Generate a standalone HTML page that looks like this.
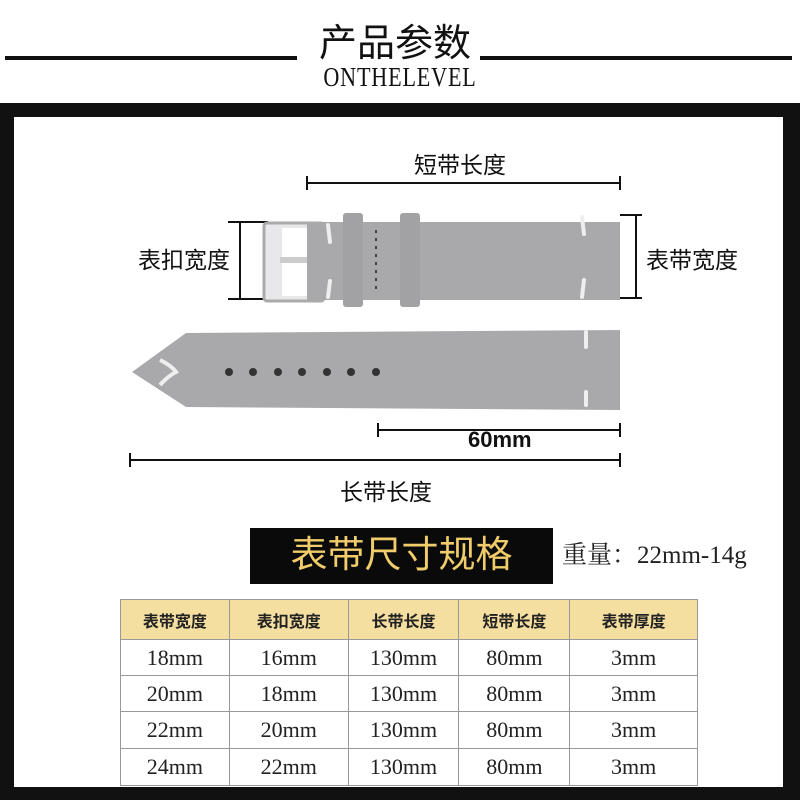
<!DOCTYPE html>
<html><head><meta charset="utf-8"><style>
body{margin:0;background:#fff;width:800px;height:800px;overflow:hidden;position:relative;font-family:"Liberation Sans","Noto Sans CJK SC",sans-serif}
.a{position:absolute}
</style></head><body>
<div class="a" style="left:5px;top:56px;width:292px;height:4px;background:#111"></div>
<div class="a" style="left:480px;top:56px;width:312px;height:4px;background:#111"></div>
<div class="a" style="left:305px;top:22px;width:180px;text-align:center;font-size:38px;color:#111;line-height:44px">产品参数</div>
<div class="a" style="left:290px;top:62px;width:220px;text-align:center;font-family:'Liberation Serif',serif;font-size:27px;letter-spacing:1px;color:#111;transform:scaleX(0.82)">ONTHELEVEL</div>
<div class="a" style="left:0;top:103px;width:800px;height:697px;background:#111"></div>
<div class="a" style="left:14px;top:117px;width:769px;height:670px;background:#fff"></div>
<svg class="a" style="left:0;top:0" width="800" height="800">
<g stroke="#111" stroke-width="2" fill="none">
<line x1="307" y1="183" x2="620" y2="183"/><line x1="307" y1="176" x2="307" y2="190"/><line x1="620" y1="176" x2="620" y2="190"/>
<line x1="240" y1="222" x2="240" y2="299"/><line x1="228" y1="222" x2="268" y2="222"/><line x1="228" y1="299" x2="268" y2="299"/>
<line x1="636" y1="215" x2="636" y2="298"/><line x1="620" y1="215" x2="642" y2="215"/><line x1="620" y1="298" x2="642" y2="298"/>
<line x1="378" y1="430" x2="620" y2="430"/><line x1="378" y1="423" x2="378" y2="437"/><line x1="620" y1="423" x2="620" y2="437"/>
<line x1="130" y1="460" x2="620" y2="460"/><line x1="130" y1="453" x2="130" y2="467"/><line x1="620" y1="453" x2="620" y2="467"/>
</g>
<rect x="264" y="223" width="60" height="78" rx="3" fill="#e8e8ea" stroke="#aaa" stroke-width="3"/>
<rect x="282" y="228" width="30" height="68" fill="#fff"/>
<rect x="280" y="257" width="60" height="6" fill="#ccc"/>
<rect x="307" y="222" width="313" height="78" fill="#a9a9ab"/>
<rect x="343" y="213" width="20" height="94" rx="3" fill="#a2a2a4"/>
<rect x="400" y="213" width="20" height="94" rx="3" fill="#a2a2a4"/>
<line x1="376" y1="230" x2="376" y2="292" stroke="#444" stroke-width="2" stroke-dasharray="3,5"/>
<g stroke="#eee" stroke-width="4" stroke-linecap="round"><line x1="328" y1="225" x2="330" y2="242"/><line x1="328" y1="297" x2="330" y2="281"/><line x1="582" y1="217" x2="584" y2="234"/><line x1="582" y1="297" x2="584" y2="280"/><line x1="586" y1="332" x2="586" y2="347"/><line x1="586" y1="405" x2="586" y2="392"/></g>
<path d="M186 333 L620 330 L620 410 L186 407 L132 372 Z" fill="#a9a9ab"/>
<g stroke="#eee" stroke-width="4" stroke-linecap="round"><line x1="586" y1="332" x2="586" y2="347"/><line x1="586" y1="405" x2="586" y2="392"/></g>
<path d="M160 360 Q172 366 176 372 Q168 376 160 385" fill="none" stroke="#eee" stroke-width="4"/>
<g fill="#333"><circle cx="229" cy="372" r="4"/><circle cx="253" cy="372" r="4"/><circle cx="278" cy="372" r="4"/><circle cx="302" cy="372" r="4"/><circle cx="327" cy="372" r="4"/><circle cx="351" cy="372" r="4"/><circle cx="376" cy="372" r="4"/></g>
</svg>
<div class="a" style="left:414px;top:146px;font-size:23px;color:#111">短带长度</div>
<div class="a" style="left:138px;top:241px;font-size:23px;color:#111">表扣宽度</div>
<div class="a" style="left:646px;top:241px;font-size:23px;color:#111">表带宽度</div>
<div class="a" style="left:468px;top:427px;font-size:22px;font-weight:bold;color:#111">60mm</div>
<div class="a" style="left:340px;top:473px;font-size:23px;color:#111">长带长度</div>
<div class="a" style="left:250px;top:528px;width:303px;height:56px;background:#0a0a0a;color:#f0cc6a;font-size:37px;text-align:center;line-height:54px">表带尺寸规格</div>
<div class="a" style="left:562px;top:535px;font-family:'Liberation Serif','Noto Serif CJK SC',serif;font-size:25px;color:#222">重量：22mm-14g</div>
<table class="a" style="left:120px;top:599px;width:578px;border-collapse:collapse;font-family:'Liberation Serif',serif;font-size:22px;color:#222;text-align:center">
<colgroup><col style="width:109px"><col style="width:119px"><col style="width:111px"><col style="width:111px"><col style="width:128px"></colgroup>
<tr style="height:40px;background:#f5dfa0;font-family:'Liberation Sans','Noto Sans CJK SC',sans-serif;font-weight:bold;font-size:16px"><td style="border:1px solid #999">表带宽度</td><td style="border:1px solid #999">表扣宽度</td><td style="border:1px solid #999">长带长度</td><td style="border:1px solid #999">短带长度</td><td style="border:1px solid #999">表带厚度</td></tr>
<tr style="height:36px"><td style="border:1px solid #999">18mm</td><td style="border:1px solid #999">16mm</td><td style="border:1px solid #999">130mm</td><td style="border:1px solid #999">80mm</td><td style="border:1px solid #999">3mm</td></tr>
<tr style="height:36px"><td style="border:1px solid #999">20mm</td><td style="border:1px solid #999">18mm</td><td style="border:1px solid #999">130mm</td><td style="border:1px solid #999">80mm</td><td style="border:1px solid #999">3mm</td></tr>
<tr style="height:37px"><td style="border:1px solid #999">22mm</td><td style="border:1px solid #999">20mm</td><td style="border:1px solid #999">130mm</td><td style="border:1px solid #999">80mm</td><td style="border:1px solid #999">3mm</td></tr>
<tr style="height:37px"><td style="border:1px solid #999">24mm</td><td style="border:1px solid #999">22mm</td><td style="border:1px solid #999">130mm</td><td style="border:1px solid #999">80mm</td><td style="border:1px solid #999">3mm</td></tr>
</table>
</body></html>
